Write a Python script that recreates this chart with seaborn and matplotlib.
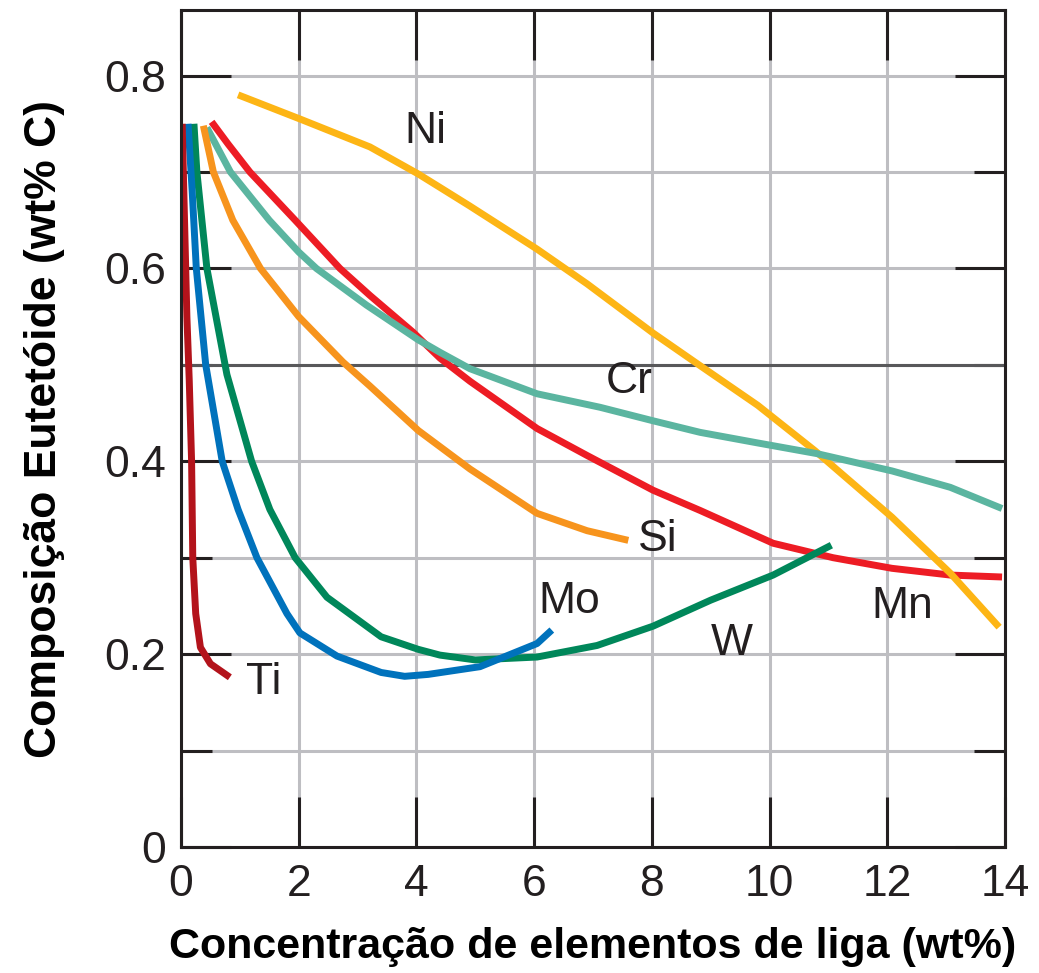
import numpy as np
import pandas as pd
import matplotlib
matplotlib.use("Agg")
import matplotlib.pyplot as plt
from matplotlib.ticker import FixedLocator, MultipleLocator
import seaborn as sns

# ---- data ----
ti_x = [0.02, 0.06, 0.10, 0.14, 0.18, 0.20, 0.25, 0.33, 0.50, 0.83]
ti_y = [0.750, 0.650, 0.550, 0.484, 0.400, 0.300, 0.242, 0.207, 0.190, 0.176]

mo_x = [0.12, 0.19, 0.26, 0.42, 0.70, 0.97, 1.29, 1.80, 2.02, 2.65, 3.40, 3.80, 4.20, 5.08, 6.05, 6.30]
mo_y = [0.750, 0.680, 0.600, 0.500, 0.400, 0.350, 0.300, 0.242, 0.222, 0.198, 0.181, 0.177, 0.179, 0.187, 0.211, 0.225]

w_x = [0.22, 0.27, 0.44, 0.78, 1.20, 1.51, 1.94, 2.48, 3.40, 4.03, 4.40, 5.00, 6.05, 7.07, 8.02, 9.00, 10.06, 11.05]
w_y = [0.750, 0.700, 0.600, 0.490, 0.400, 0.350, 0.300, 0.259, 0.218, 0.205, 0.199, 0.194, 0.197, 0.209, 0.229, 0.256, 0.282, 0.313]

si_x = [0.38, 0.55, 0.88, 1.35, 2.00, 2.75, 3.21, 4.03, 4.91, 6.05, 6.90, 7.60]
si_y = [0.748, 0.700, 0.650, 0.600, 0.550, 0.503, 0.478, 0.432, 0.392, 0.346, 0.328, 0.318]

cr_x = [0.44, 0.84, 1.50, 2.00, 2.30, 3.15, 4.03, 4.40, 4.91, 6.05, 7.12, 8.02, 8.82, 9.80, 10.80, 12.08, 13.07, 13.95]
cr_y = [0.746, 0.700, 0.650, 0.617, 0.600, 0.562, 0.526, 0.513, 0.496, 0.470, 0.456, 0.442, 0.430, 0.419, 0.408, 0.390, 0.373, 0.351]

mn_x = [0.52, 0.80, 1.17, 1.94, 2.70, 3.21, 3.94, 4.40, 4.91, 6.05, 6.90, 8.02, 8.82, 10.06, 11.08, 12.08, 13.07, 13.95]
mn_y = [0.752, 0.729, 0.700, 0.650, 0.600, 0.572, 0.534, 0.507, 0.483, 0.434, 0.406, 0.370, 0.349, 0.315, 0.300, 0.289, 0.282, 0.280]

ni_x = [0.97, 2.02, 3.21, 4.03, 4.40, 4.90, 6.05, 6.90, 8.02, 8.80, 9.80, 10.77, 12.08, 13.07, 13.90]
ni_y = [0.780, 0.755, 0.726, 0.698, 0.684, 0.665, 0.620, 0.584, 0.533, 0.500, 0.458, 0.411, 0.342, 0.284, 0.228]

elements = ["Mn", "Ni", "Cr", "Si", "W", "Mo", "Ti"]
series = {"Ti": (ti_x, ti_y), "Mo": (mo_x, mo_y), "W": (w_x, w_y), "Si": (si_x, si_y),
          "Cr": (cr_x, cr_y), "Mn": (mn_x, mn_y), "Ni": (ni_x, ni_y)}
colors = {"Ti": "#B3131B", "Mo": "#0072BC", "W": "#00875A", "Si": "#F7941D",
          "Cr": "#5BB5A0", "Mn": "#ED1C24", "Ni": "#FDB515"}

label_names = ["Ni", "Cr", "Si", "Mo", "W", "Mn", "Ti"]
label_x = [4.15, 7.61, 8.10, 6.60, 9.36, 12.25, 1.41]
label_y = [0.742, 0.483, 0.319, 0.255, 0.211, 0.249, 0.171]

x_ticks = [0, 2, 4, 6, 8, 10, 12, 14]
x_ticklabels = ["0", "2", "4", "6", "8", "10", "12", "14"]
y_ticks = [0, 0.2, 0.4, 0.6, 0.8]
y_ticklabels = ["0", "0.2", "0.4", "0.6", "0.8"]

xlabel = "Concentração de elementos de liga (wt%)"
ylabel = "Composição Eutetóide (wt% C)"

# ---- build table ----
rows = []
for el in elements:
    xs, ys = series[el]
    for i, (a, b) in enumerate(zip(xs, ys)):
        rows.append({"element": el, "order": i, "x": a, "y": b})
df = pd.DataFrame(rows)

sns.set_theme(style="white")
plt.rcParams["font.family"] = ["Liberation Sans", "DejaVu Sans"]

fig = plt.figure(figsize=(10.39, 9.73), dpi=100)
ax = fig.add_axes([181 / 1039, 1 - 847 / 973, (1005 - 181) / 1039, (847 - 10) / 973])

ink = "#231F20"
grid_c = "#BEBEC2"

for el in elements:
    sub = df[df["element"] == el]
    sns.lineplot(data=sub, x="x", y="y", ax=ax, color=colors[el], linewidth=5.0,
                 sort=False, estimator=None, legend=False, solid_capstyle="butt",
                 solid_joinstyle="round", zorder=3)

ax.set_xlim(0, 14)
ax.set_ylim(0, 0.868)

ax.xaxis.set_major_locator(FixedLocator(x_ticks))
ax.set_xticklabels(x_ticklabels)
ax.yaxis.set_major_locator(FixedLocator(y_ticks))
ax.set_yticklabels(y_ticklabels)
ax.yaxis.set_minor_locator(MultipleLocator(0.1))

ax.set_axisbelow(True)
ax.grid(which="major", axis="x", color=grid_c, linewidth=2.2)
ax.grid(which="both", axis="y", color=grid_c, linewidth=2.2)
ax.axhline(0.5, color="#58585A", linewidth=2.2, zorder=1)

ax.tick_params(which="both", direction="in", top=True, right=True, bottom=True, left=True,
               color=ink, width=2.2)
ax.tick_params(which="major", length=36)
ax.tick_params(which="minor", length=22)
ax.tick_params(axis="x", which="major", labelsize=32, labelcolor=ink, pad=12)
ax.tick_params(axis="y", which="major", labelsize=32, labelcolor=ink, pad=11)

for s in ax.spines.values():
    s.set_visible(True)
    s.set_color(ink)
    s.set_linewidth(2.2)
    s.set_zorder(5)

ax.set_xlabel(xlabel, fontsize=31, fontweight="bold", color="black", labelpad=16)
ax.set_ylabel(ylabel, fontsize=32, fontweight="bold", color="black", labelpad=28)

for name, lx, ly in zip(label_names, label_x, label_y):
    ax.text(lx, ly, name, fontsize=32, color=ink, ha="center", va="center", zorder=4)

fig.savefig("out.png", dpi=100)
